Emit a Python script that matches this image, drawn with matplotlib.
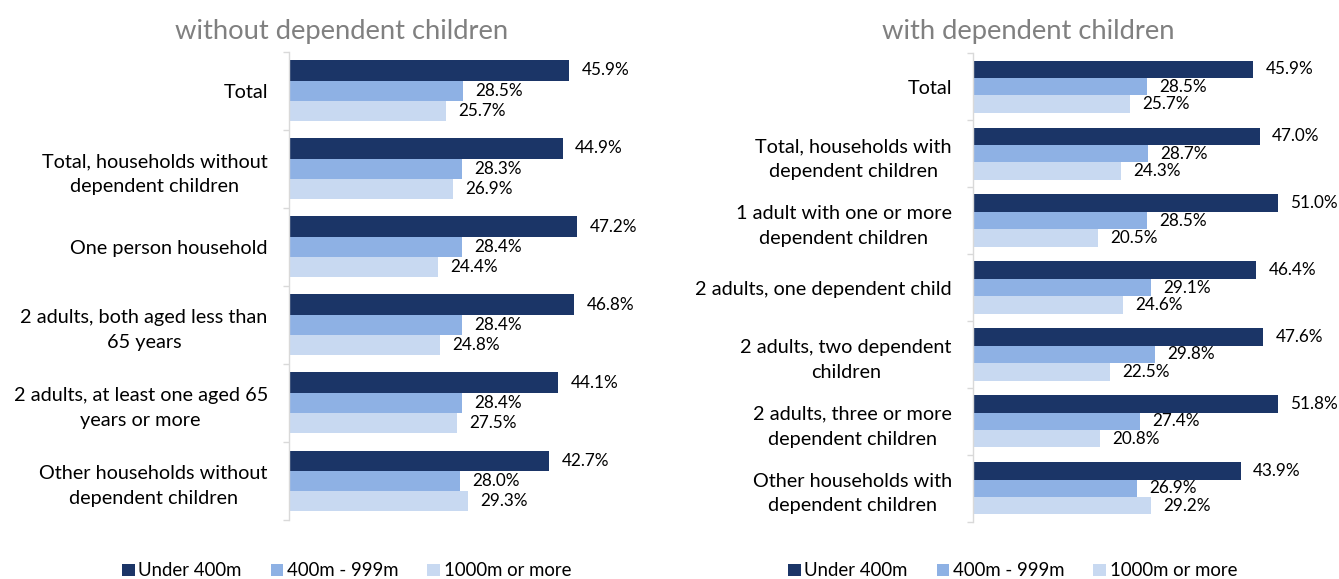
import matplotlib
matplotlib.use("Agg")
import matplotlib.pyplot as plt
import numpy as np
from matplotlib.ticker import FixedLocator, NullFormatter

plt.rcParams['font.family'] = ['Lato', 'DejaVu Sans']

# ---------------- data ----------------
series_names = ["Under 400m", "400m - 999m", "1000m or more"]

left_title = "without dependent children"
left_categories = [
    "Total",
    "Total, households without\ndependent children",
    "One person household",
    "2 adults, both aged less than\n65 years",
    "2 adults, at least one aged 65\nyears or more",
    "Other households without\ndependent children",
]
left_under400 = [45.9, 44.9, 47.2, 46.8, 44.1, 42.7]
left_400_999 = [28.5, 28.3, 28.4, 28.4, 28.4, 28.0]
left_1000plus = [25.7, 26.9, 24.4, 24.8, 27.5, 29.3]

right_title = "with dependent children"
right_categories = [
    "Total",
    "Total, households with\ndependent children",
    "1 adult with one or more\ndependent children",
    "2 adults, one dependent child",
    "2 adults, two dependent\nchildren",
    "2 adults, three or more\ndependent children",
    "Other households with\ndependent children",
]
right_under400 = [45.9, 47.0, 51.0, 46.4, 47.6, 51.8, 43.9]
right_400_999 = [28.5, 28.7, 28.5, 29.1, 29.8, 27.4, 26.9]
right_1000plus = [25.7, 24.3, 20.5, 24.6, 22.5, 20.8, 29.2]

# ---------------- style ----------------
colors = ["#1B3567", "#8EB1E4", "#C8D9F1"]
W, H = 1339, 579
fig = plt.figure(figsize=(W / 100, H / 100), dpi=100)

px_per_unit = 6.1
xmax = 50


def panel(x0_px, top_px, bot_px, cats, series, title, title_x_px, label_max=None):
    width_px = xmax * px_per_unit
    ax = fig.add_axes([x0_px / W, 1 - bot_px / H, width_px / W, (bot_px - top_px) / H])
    n = len(cats)
    y = np.arange(n)
    bh = 0.26
    offsets = [-bh, 0, bh]
    for vals, off, c, name in zip(series, offsets, colors, series_names):
        bars = ax.barh(y + off, vals, height=bh, color=c, edgecolor="none", label=name)
        for b, v in zip(bars, vals):
            lx = v + 12.4 / px_per_unit
            if label_max is not None:
                lx = min(lx, label_max)
            ax.text(lx, b.get_y() + b.get_height() / 2, f"{v:.1f}%",
                    ha="left", va="center", fontsize=12.3, color="#000000",
                    clip_on=False)
    ax.set_xlim(0, xmax)
    ax.set_ylim(n - 0.5, -0.5)
    ax.set_yticks(y)
    ax.set_yticklabels(cats, fontsize=14.3, color="#000000", linespacing=1.55)
    for lab in ax.get_yticklabels():
        lab.set_multialignment("center")
    ax.yaxis.set_minor_locator(FixedLocator(np.arange(-0.5, n + 0.5, 1.0)))
    ax.yaxis.set_minor_formatter(NullFormatter())
    ax.tick_params(axis="y", which="major", length=0, pad=15.3)
    ax.tick_params(axis="y", which="minor", length=4.2, width=1.0, color="#D9D9D9")
    ax.set_xticks([])
    for s in ["top", "right", "bottom"]:
        ax.spines[s].set_visible(False)
    ax.spines["left"].set_color("#D9D9D9")
    ax.spines["left"].set_linewidth(1.0)
    fig.text(title_x_px / W, 1 - 31 / H, title, ha="center", va="center",
             fontsize=19.7, color="#808080")
    return ax


axL = panel(289, 51.7, 520, left_categories,
            [left_under400, left_400_999, left_1000plus], left_title, 342)
axR = panel(973, 53.3, 521.7, right_categories,
            [right_under400, right_400_999, right_1000plus], right_title, 1028,
            label_max=52.0)

for ax, lx in [(axL, 122), (axR, 788)]:
    h, l = ax.get_legend_handles_labels()
    fig.legend(h, l, loc="center left", bbox_to_anchor=(lx / W, 1 - 571 / H),
               ncol=3, frameon=False, fontsize=13.4, handlelength=0.68,
               handleheight=0.68, handletextpad=0.2, columnspacing=1.55,
               borderpad=0, borderaxespad=0)

fig.savefig("out.png", dpi=100, facecolor="white")
